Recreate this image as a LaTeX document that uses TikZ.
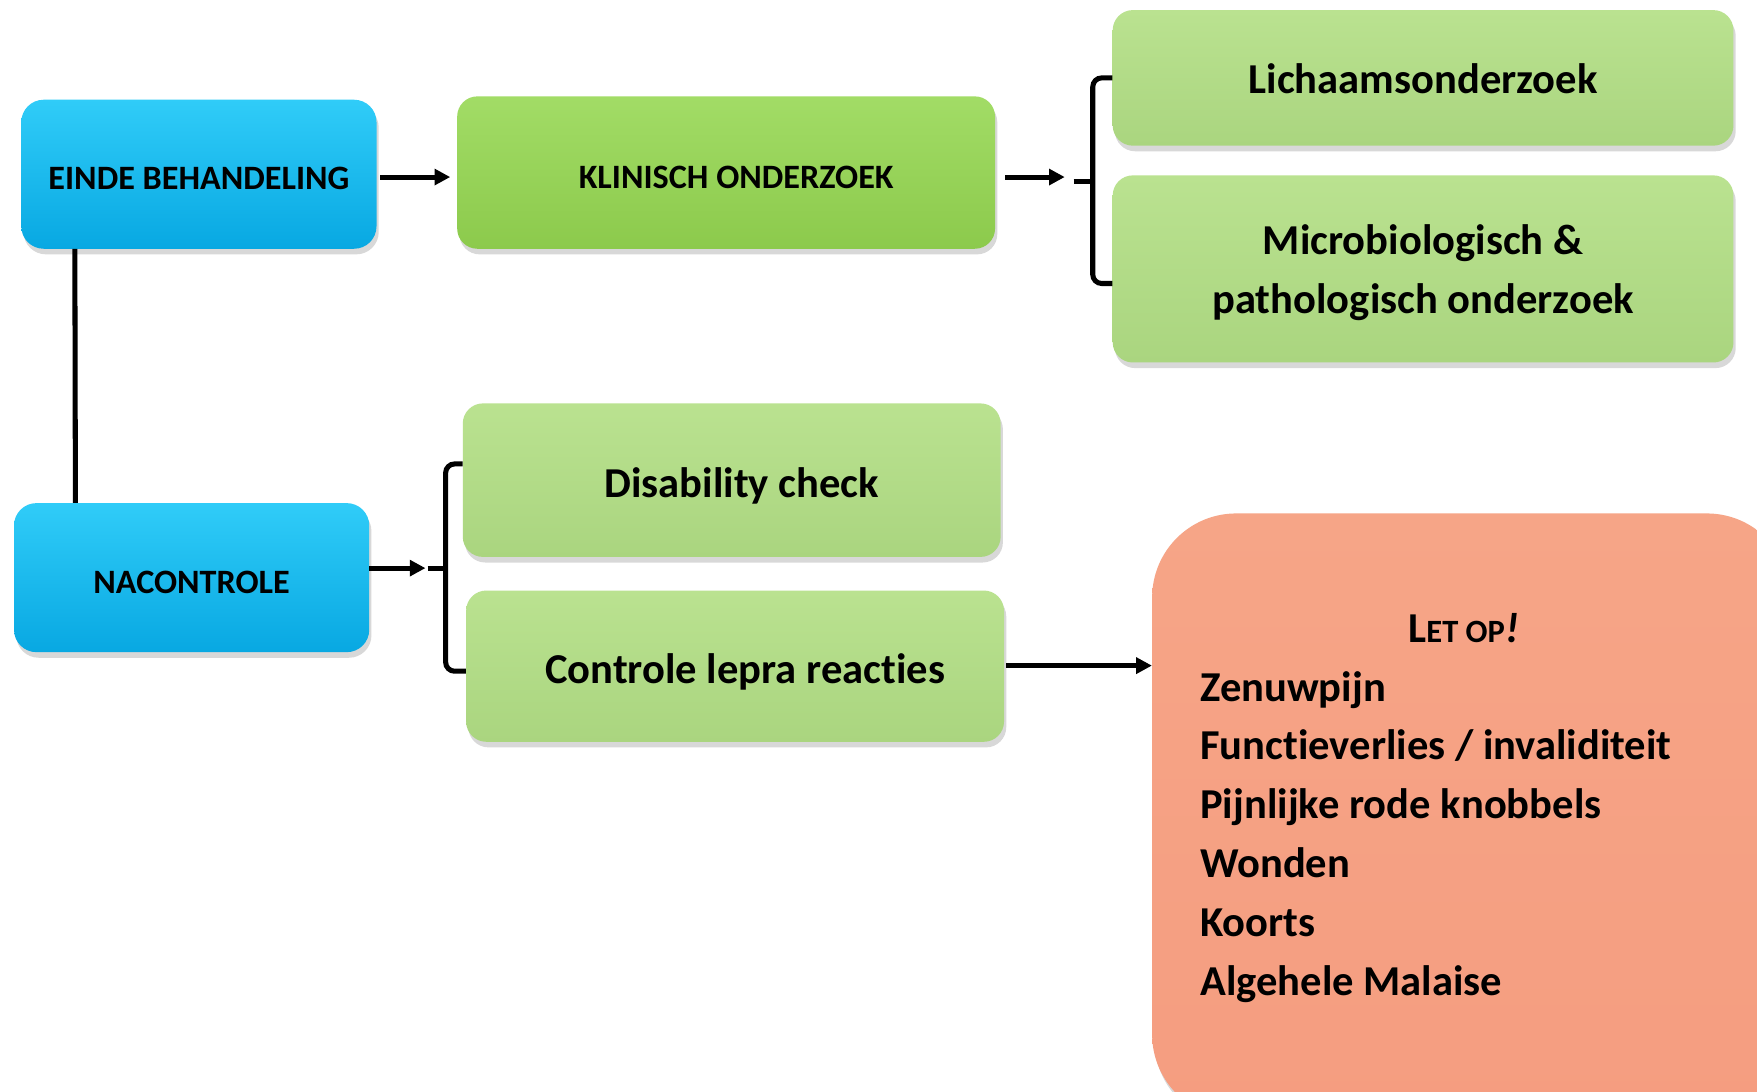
\documentclass[tikz,border=0pt]{standalone}
\usepackage{fontspec}
\setmainfont[Ligatures=NoCommon]{Carlito}
\usetikzlibrary{arrows.meta,shadows,calc}
\definecolor{bluemain}{HTML}{08AEEA}
\definecolor{bluetop}{HTML}{30CCF8}
\definecolor{bluebot}{HTML}{08A8E2}
\definecolor{dgreen}{HTML}{92D050}
\definecolor{dgreentop}{HTML}{A2DC66}
\definecolor{dgreenbot}{HTML}{8CCA4C}
\definecolor{lgreen}{HTML}{AED883}
\definecolor{lgreentop}{HTML}{BAE290}
\definecolor{lgreenbot}{HTML}{AAD57F}
\definecolor{orng}{HTML}{F59D80}
\definecolor{orngtop}{HTML}{F6A587}
\newcommand{\dn}[2][4pt]{\raisebox{-#1}[\height][\depth]{#2}}
\tikzset{
  basebox/.style={rectangle, draw=none, align=center, font=\bfseries, text=black,
    drop shadow={shadow xshift=2pt, shadow yshift=-5pt, opacity=0.3}},
  bluebox/.style={basebox, rounded corners=20pt, top color=bluetop, middle color=bluemain, bottom color=bluebot,
    minimum width=317pt, minimum height=133pt, font=\bfseries\fontsize{30.5}{34}\selectfont},
  dgbox/.style={basebox, rounded corners=18pt, top color=dgreentop, middle color=dgreen, bottom color=dgreenbot,
    minimum width=480pt, minimum height=136pt, font=\bfseries\fontsize{30.5}{34}\selectfont},
  lgbox/.style={basebox, rounded corners=18pt, top color=lgreentop, middle color=lgreen, bottom color=lgreenbot,
    font=\bfseries\fontsize{38}{53}\selectfont},
  obox/.style={basebox, rounded corners=75pt, top color=orngtop, middle color=orng, bottom color=orng},
  conn/.style={line width=4.5pt, black},
  arr/.style={conn, -{Triangle[length=14pt,width=14pt]}},
  brk/.style={conn, rounded corners=8pt},
}
\begin{document}
\begin{tikzpicture}[x=1pt,y=-1pt]
\useasboundingbox (0,0) rectangle (1568,974);
\clip (0,0) rectangle (1568,974);
\fill[white] (0,0) rectangle (1568,974);

% nodes
\node[bluebox] (einde) at (177.5,155.5) {\dn{EINDE BEHANDELING}};
\node[bluebox] (naco) at (171,515.5) {\dn{NACONTROLE}};
\node[dgbox] (klin) at (648,154) {\hspace*{18pt}\dn{KLINISCH ONDERZOEK}};
\node[lgbox, minimum width=554pt, minimum height=121pt] (licht) at (1270,69.5) {\dn[1pt]{Lichaamsonderzoek}};
\node[lgbox, minimum width=554pt, minimum height=167pt] (micro) at (1270,240) {\dn[3pt]{\begin{tabular}{@{}c@{}}Microbiologisch \&\\pathologisch onderzoek\end{tabular}}};
\node[lgbox, minimum width=480pt, minimum height=137pt] (dis) at (653,428.5) {\hspace*{18pt}\dn[5pt]{Disability check}};
\node[lgbox, minimum width=480pt, minimum height=135pt] (ctrl) at (656,594.5) {\hspace*{18pt}\dn[5pt]{Controle lepra reacties}};
\node[obox, minimum width=570pt, minimum height=540pt, anchor=north west] (orange) at (1028,458) {};
\node[anchor=north west, align=left, font=\bfseries\fontsize{38}{52.5}\selectfont, inner sep=0pt] (lettext) at (1071,547)
  {\makebox[470pt][c]{\fontsize{38}{40}\selectfont L{\fontsize{29}{30}\selectfont ET OP}\textit{!}}\\
   Zenuwpijn\\Functieverlies / invaliditeit\\Pijnlijke rode knobbels\\Wonden\\Koorts\\Algehele Malaise};

% helper coordinates
\coordinate (a1s) at ($(einde.east)+(3,2.5)$);
\coordinate (a1e) at ($(klin.west)+(-6,4)$);
\coordinate (a2s) at ($(klin.east)+(9,4)$);
\coordinate (a2e) at ($(klin.east)+(62,4)$);
\coordinate (kb) at ($(klin.east)+(87,8)$);
\coordinate (kbt) at ($(kb)+(-17,0)$);
\coordinate (lt) at (licht.west);
\coordinate (mb) at ($(micro.west)+(0,13)$);
\coordinate (vs) at ($(einde.south west)+(48,0)$);
\coordinate (ve) at ($(naco.north west)+(55,0)$);
\coordinate (a3s) at ($(naco.east)+(0,-8.5)$);
\coordinate (a3e) at ($(naco.east)+(50,-8.5)$);
\coordinate (nb) at ($(naco.east)+(68,-8.5)$);
\coordinate (nbt) at ($(nb)+(-16,0)$);
\coordinate (dt) at ($(dis.west)+(0,-14.5)$);
\coordinate (cb) at ($(ctrl.west)+(0,4.5)$);
\coordinate (a4s) at ($(ctrl.east)+(2,-0.5)$);

% connectors
\draw[arr] (a1s) -- (a1e);
\draw[arr] (a2s) -- (a2e);
\draw[conn] (kbt) -- (kb);
\draw[brk] (lt) -| (kb) |- (mb);
\draw[conn] (vs) -- (ve);
\draw[arr] (a3s) -- (a3e);
\draw[conn] (nbt) -- (nb);
\draw[brk] (dt) -| (nb) |- (cb);
\draw[arr] (a4s) -- (a4s -| orange.west);
\end{tikzpicture}
\end{document}
